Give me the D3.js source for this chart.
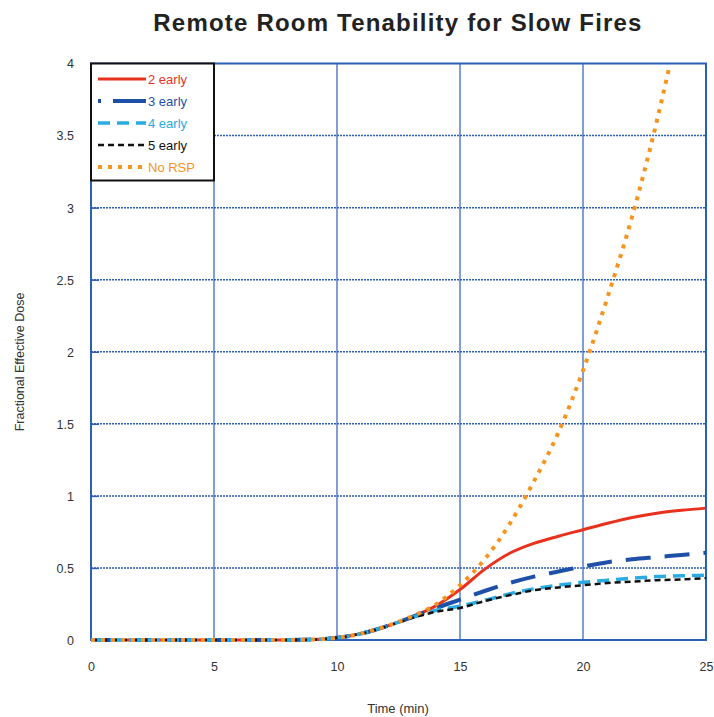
<!DOCTYPE html>
<html>
<head>
<meta charset="UTF-8" />
<title>Remote Room Tenability for Slow Fires</title>
<script src="https://d3js.org/d3.v7.min.js"></script>
<style>
  body { margin: 0; background: #fff; }
  svg { font-family: "Liberation Sans", Arial, sans-serif; }
  .tick text { fill: #333; font-size: 12.5px; }
</style>
</head>
<body>
<svg id="chart" width="714" height="717"></svg>
<script>
// time in minutes
const minutes = [0, 1, 2, 3, 4, 5, 6, 7, 8, 9, 10, 11, 12, 13, 14, 15, 16, 17, 18, 19, 20, 21, 22, 23, 24, 25];
const early2 = [0, 0, 0, 0, 0, 0, 0, 0, 0, 0.003, 0.015, 0.045, 0.095, 0.157, 0.235, 0.35, 0.49, 0.6, 0.67, 0.72, 0.765, 0.81, 0.85, 0.88, 0.9, 0.915];
const early3 = [0, 0, 0, 0, 0, 0, 0, 0, 0, 0.003, 0.015, 0.045, 0.095, 0.155, 0.22, 0.28, 0.34, 0.395, 0.44, 0.475, 0.51, 0.54, 0.56, 0.575, 0.59, 0.605];
const early4 = [0, 0, 0, 0, 0, 0, 0, 0, 0, 0.003, 0.015, 0.045, 0.095, 0.153, 0.205, 0.235, 0.275, 0.32, 0.355, 0.38, 0.4, 0.415, 0.428, 0.44, 0.445, 0.45];
const early5 = [0, 0, 0, 0, 0, 0, 0, 0, 0, 0.003, 0.015, 0.045, 0.093, 0.15, 0.195, 0.222, 0.27, 0.31, 0.345, 0.365, 0.38, 0.395, 0.405, 0.415, 0.42, 0.43];
// no RSP runs off the top just after 23.5 min
const noRspTime = [0, 1, 2, 3, 4, 5, 6, 7, 8, 9, 10, 11, 12, 13, 14, 15, 16, 17, 18, 19, 20, 21, 22, 23, 23.5];
const noRsp = [0, 0, 0, 0, 0, 0, 0, 0, 0, 0.003, 0.015, 0.045, 0.095, 0.16, 0.245, 0.38, 0.56, 0.8, 1.1, 1.44, 1.87, 2.38, 2.94, 3.6, 3.97];

const xTicks = [0, 5, 10, 15, 20, 25];
const yTicks = [0, 0.5, 1, 1.5, 2, 2.5, 3, 3.5, 4];

const series = [
  { name: "2 early", t: minutes, v: early2, color: "#e8321e", width: 3, dash: null },
  { name: "3 early", t: minutes, v: early3, color: "#1f50a8", width: 4, dash: "25,14" },
  { name: "4 early", t: minutes, v: early4, color: "#2aace2", width: 3.5, dash: "12,7" },
  { name: "5 early", t: minutes, v: early5, color: "#111111", width: 2.5, dash: "6,4" },
  { name: "No RSP", t: noRspTime, v: noRsp, color: "#f7941d", width: 4, dash: "4,6" }
];

const svg = d3.select("#chart");
const plotLeft = 91, plotRight = 706, plotTop = 63.5, plotBottom = 640;

const x = d3.scaleLinear().domain([0, 25]).range([plotLeft, plotRight]);
const y = d3.scaleLinear().domain([0, 4]).range([plotBottom, plotTop]);

const gridColor = "#2b5fb8";

// horizontal grid (dotted)
svg.append("g")
  .selectAll("line")
  .data(yTicks.slice(1, -1))
  .join("line")
  .attr("x1", plotLeft).attr("x2", plotRight)
  .attr("y1", d => y(d)).attr("y2", d => y(d))
  .attr("stroke", gridColor)
  .attr("stroke-width", 1.5)
  .attr("stroke-dasharray", "2,1");

// vertical grid
svg.append("g")
  .selectAll("line")
  .data(xTicks.slice(1, -1))
  .join("line")
  .attr("x1", d => x(d)).attr("x2", d => x(d))
  .attr("y1", plotTop).attr("y2", plotBottom)
  .attr("stroke", gridColor)
  .attr("stroke-width", 1.2);

// y axis, inward ticks
const yAxis = svg.append("g")
  .attr("transform", `translate(${plotLeft},0)`)
  .call(d3.axisRight(y).tickValues(yTicks).tickSize(8).tickFormat(d3.format("")));
yAxis.select(".domain").remove();
yAxis.selectAll(".tick line").attr("stroke", gridColor).attr("stroke-width", 1.5);
yAxis.selectAll(".tick text").attr("x", -17).attr("text-anchor", "end").attr("dy", "0.35em");

// x axis labels
const xAxis = svg.append("g")
  .attr("transform", `translate(0,${plotBottom})`)
  .call(d3.axisBottom(x).tickValues(xTicks).tickSize(0).tickPadding(22));
xAxis.select(".domain").remove();

// plot border
svg.append("rect")
  .attr("x", plotLeft).attr("y", plotTop)
  .attr("width", plotRight - plotLeft).attr("height", plotBottom - plotTop)
  .attr("fill", "none")
  .attr("stroke", gridColor)
  .attr("stroke-width", 2);

// lines
const line = d3.line()
  .x(d => x(d[0]))
  .y(d => y(d[1]))
  .curve(d3.curveMonotoneX);

svg.append("g")
  .selectAll("path")
  .data(series)
  .join("path")
  .attr("d", s => line(s.t.map((t, i) => [t, s.v[i]])))
  .attr("fill", "none")
  .attr("stroke", s => s.color)
  .attr("stroke-width", s => s.width)
  .attr("stroke-dasharray", s => s.dash);

// legend
const legend = svg.append("g");
legend.append("rect")
  .attr("x", plotLeft).attr("y", plotTop)
  .attr("width", 123).attr("height", 117)
  .attr("fill", "#fff")
  .attr("stroke", "#111")
  .attr("stroke-width", 2);

const rows = legend.selectAll("g.item")
  .data(series)
  .join("g")
  .attr("class", "item")
  .attr("transform", (d, i) => `translate(0,${79 + i * 22})`);
rows.append("line")
  .attr("x1", 98).attr("x2", 146)
  .attr("stroke", d => d.color)
  .attr("stroke-width", d => d.width)
  .attr("stroke-dasharray", d => d.name === "3 early" ? "3,12,33" : d.dash);
rows.append("text")
  .attr("x", 148).attr("dy", "0.35em")
  .attr("font-size", 13)
  .attr("fill", d => d.color)
  .text(d => d.name);

// titles
svg.append("text")
  .attr("x", 398).attr("y", 31)
  .attr("text-anchor", "middle")
  .attr("font-size", 24).attr("font-weight", "bold")
  .attr("letter-spacing", 1.2)
  .attr("fill", "#222")
  .text("Remote Room Tenability for Slow Fires");

svg.append("text")
  .attr("x", 398).attr("y", 713)
  .attr("text-anchor", "middle")
  .attr("font-size", 13).attr("fill", "#333")
  .text("Time (min)");

svg.append("text")
  .attr("transform", "translate(24,362) rotate(-90)")
  .attr("text-anchor", "middle")
  .attr("font-size", 12.5).attr("fill", "#333")
  .text("Fractional Effective Dose");
</script>
</body>
</html>
